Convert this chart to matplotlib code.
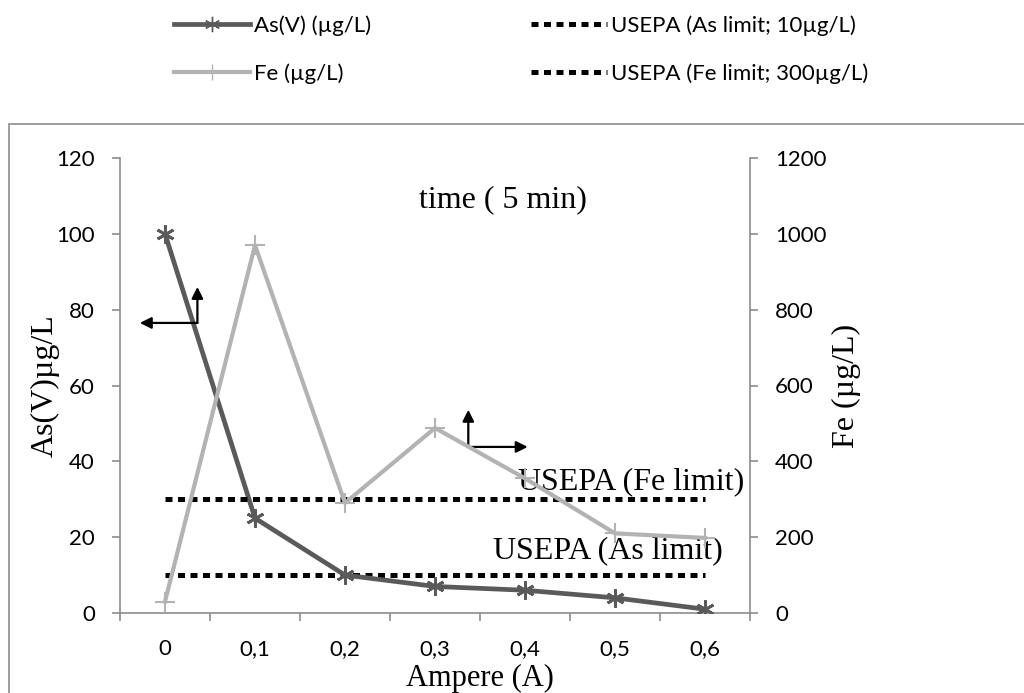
import numpy as np
import matplotlib.pyplot as plt
from matplotlib.lines import Line2D
from matplotlib.patches import Rectangle

# Data
amperes = ["0", "0,1", "0,2", "0,3", "0,4", "0,5", "0,6"]
as_values = [100, 25, 10, 7, 6, 4, 1]          # As(V) µg/L, left axis
fe_values = [30, 970, 290, 488, 355, 210, 198]  # Fe µg/L, right axis
as_limit = 10
fe_limit = 300

SANS = ["Lato", "DejaVu Sans"]
SERIF = ["Liberation Serif", "DejaVu Serif"]
DARK = "#5a5a5a"
LIGHT = "#b3b3b3"
SPINE = "#8c8c8c"
DOTS = (0, (1.4, 1.1))
W, H = 1024, 693

fig = plt.figure(figsize=(10.24, 6.93), dpi=100)
# outer chart-area border (runs off the right and bottom edges)
fig.patches.append(Rectangle((9 / W, -0.05), 1.2, 1 - 124 / H + 0.05,
                             transform=fig.transFigure, fill=False,
                             edgecolor=SPINE, linewidth=1.2))

ax = fig.add_axes([120 / W, 1 - 613 / H, 630 / W, 455 / H])
ax2 = ax.twinx()

x = np.arange(len(amperes))

ax.plot(x, [as_limit] * len(x), color="black", lw=3.6, ls=DOTS,
        dash_capstyle="butt", zorder=2)
ax.plot(x, as_values, color=DARK, lw=3.4, marker=(6, 2, 0), ms=13, mew=2,
        zorder=3)
ax2.plot(x, [fe_limit] * len(x), color="black", lw=3.6, ls=DOTS,
         dash_capstyle="butt", zorder=2)
ax2.plot(x, fe_values, color=LIGHT, lw=3, marker="+", ms=14, mew=1.5, zorder=3)

ax.set_xlim(-0.5, len(x) - 0.5)
ax.set_ylim(0, 120)
ax2.set_ylim(0, 1200)
ax.set_yticks(np.arange(0, 121, 20))
ax2.set_yticks(np.arange(0, 1201, 200))
ax.set_xticks(x)
ax.set_xticklabels(amperes)
ax.set_xticks(np.arange(-0.5, len(x), 1), minor=True)
ax.tick_params(axis="x", which="major", length=0, pad=19, labelsize=16)
ax.tick_params(axis="x", which="minor", length=6, width=1.2, color=SPINE,
               direction="out")
ax.tick_params(axis="y", length=6, width=1.2, color=SPINE, labelsize=16, pad=12)
ax2.tick_params(axis="y", length=6, width=1.2, color=SPINE, labelsize=16, pad=12)

for a in (ax, ax2):
    a.spines["top"].set_visible(False)
    for s in ("left", "right", "bottom"):
        a.spines[s].set_color(SPINE)
        a.spines[s].set_linewidth(1.2)
ax.spines["right"].set_visible(False)
ax2.spines["left"].set_visible(False)
ax2.spines["bottom"].set_visible(False)

for lab in ax.get_xticklabels() + ax.get_yticklabels() + ax2.get_yticklabels():
    lab.set_family(SANS)

ax.set_ylabel("As(V)µg/L", family=SERIF, fontsize=23)
ax.yaxis.set_label_coords(-0.095, 0.5)
ax2.set_ylabel("Fe (µg/L)", family=SERIF, fontsize=23)
ax2.yaxis.set_label_coords(1.13, 0.5)
ax.set_xlabel("Ampere (A)", family=SERIF, fontsize=22, va="top")
ax.xaxis.set_label_coords(0.571, -0.111)

ax.text(3.75, 109, "time ( 5 min)", family=SERIF, fontsize=23,
        ha="center", va="center")
ax.text(6.44, 34.7, "USEPA (Fe limit)", family=SERIF, fontsize=23,
        ha="right", va="center")
ax.text(6.2, 16.5, "USEPA (As limit)", family=SERIF, fontsize=23,
        ha="right", va="center")

# axis pointer arrows
arr = dict(arrowstyle="-|>", color="black", lw=1.6, mutation_scale=17,
           shrinkA=0, shrinkB=0)
ax.annotate("", xy=(-0.28, 76.5), xytext=(0.36, 76.5), arrowprops=arr)
ax.annotate("", xy=(0.36, 86), xytext=(0.36, 76.5), arrowprops=arr)
ax.annotate("", xy=(4.03, 43.8), xytext=(3.37, 43.8), arrowprops=arr)
ax.annotate("", xy=(3.37, 53.6), xytext=(3.37, 43.8), arrowprops=arr)

handles = [
    Line2D([], [], color=DARK, lw=3.4, marker=(6, 2, 0), ms=11, mew=1),
    Line2D([], [], color=LIGHT, lw=3, marker="+", ms=12, mew=1),
    Line2D([], [], color="black", lw=3.6, ls=DOTS, dash_capstyle="butt"),
    Line2D([], [], color="black", lw=3.6, ls=DOTS, dash_capstyle="butt"),
]
labels = ["As(V) (µg/L)", "Fe (µg/L)",
          "USEPA (As limit; 10µg/L)", "USEPA (Fe limit; 300µg/L)"]
fig.legend(handles, labels, loc="upper left", bbox_to_anchor=(174 / W, 1 - 15 / H),
           ncol=2, frameon=False, prop={"family": SANS, "size": 16},
           borderpad=0, borderaxespad=0, handlelength=3.4, handletextpad=0.2,
           columnspacing=7.2, labelspacing=1.25)

plt.savefig("out.png", dpi=100)
